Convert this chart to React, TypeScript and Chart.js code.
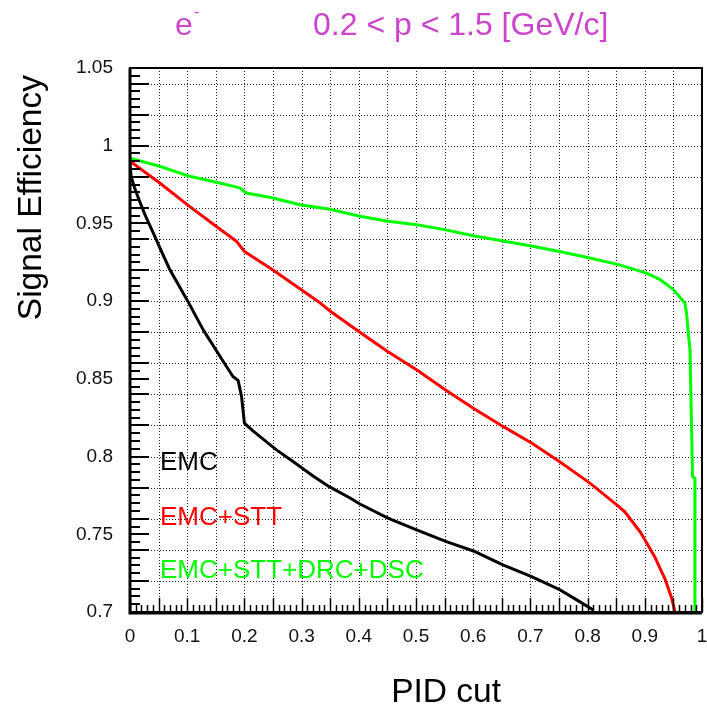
import React, { useEffect, useRef } from "react";
import { Chart, registerables } from "chart.js";

Chart.register(...registerables);

// ---------- data ----------
const EMC_X = [0, 0.002, 0.008, 0.017, 0.028, 0.043, 0.055, 0.07, 0.101, 0.128, 0.165, 0.18, 0.189, 0.195, 0.2, 0.215, 0.256, 0.285, 0.32, 0.349, 0.384, 0.402, 0.451, 0.501, 0.553, 0.603, 0.652, 0.702, 0.752, 0.781, 0.81];
const EMC_Y = [0.988, 0.98, 0.973, 0.964, 0.954, 0.942, 0.932, 0.92, 0.9, 0.8815, 0.86, 0.8515, 0.849, 0.8387, 0.8215, 0.8165, 0.8043, 0.7968, 0.7875, 0.7805, 0.7735, 0.7695, 0.7604, 0.7528, 0.7453, 0.7389, 0.7303, 0.7228, 0.7142, 0.7078, 0.7013];

const STT_X = [0, 0.052, 0.104, 0.151, 0.186, 0.2, 0.25, 0.297, 0.33, 0.352, 0.4, 0.451, 0.501, 0.553, 0.603, 0.652, 0.702, 0.75, 0.804, 0.851, 0.865, 0.893, 0.918, 0.935, 0.946, 0.953];
const STT_Y = [0.99, 0.976, 0.961, 0.948, 0.9385, 0.932, 0.92, 0.908, 0.8995, 0.893, 0.8805, 0.8675, 0.8559, 0.8425, 0.8305, 0.8194, 0.8087, 0.797, 0.7829, 0.7689, 0.7645, 0.751, 0.735, 0.7215, 0.71, 0.7];

const ALL_X = [0, 0.052, 0.104, 0.151, 0.192, 0.203, 0.25, 0.297, 0.352, 0.402, 0.451, 0.501, 0.55, 0.6, 0.65, 0.699, 0.751, 0.804, 0.854, 0.903, 0.927, 0.95, 0.97, 0.973, 0.976, 0.979, 0.9835, 0.9875, 0.9877];
const ALL_Y = [0.992, 0.9868, 0.9803, 0.9765, 0.9729, 0.9696, 0.9664, 0.962, 0.9589, 0.9546, 0.9514, 0.9492, 0.946, 0.9421, 0.9389, 0.9357, 0.932, 0.9278, 0.9235, 0.918, 0.9138, 0.9074, 0.8988, 0.8924, 0.8795, 0.8687, 0.787, 0.786, 0.7];

const SERIES_LABELS = ["EMC", "EMC+STT", "EMC+STT+DRC+DSC"];
const SERIES_COLORS = ["#000000", "#ff0000", "#00ff00"];

const X_MIN = 0;
const X_MAX = 1;
const Y_MIN = 0.7;
const Y_MAX = 1.05;
const X_TICK_STEP = 0.01;
const Y_TICK_STEP = 0.005;
const X_GRID_STEP = 0.05;
const Y_GRID_STEP = 0.02;
const X_LABEL_STEP = 0.1;
const Y_LABEL_STEP = 0.05;

const TITLE_PARTICLE = "e";
const TITLE_CHARGE = "-";
const TITLE_RANGE = "0.2 < p < 1.5 [GeV/c]";
const X_TITLE = "PID cut";
const Y_TITLE = "Signal Efficiency";

const FONT = "'Liberation Sans', Arial, Helvetica, sans-serif";
const TITLE_COLOR = "#cc44cc";

function isMult(v: number, step: number): boolean {
  const r = v / step;
  return Math.abs(r - Math.round(r)) < 1e-6;
}

const rootPlugin = {
  id: "rootStyle",
  beforeDatasetsDraw(chart: any) {
    const { ctx, chartArea: a, scales } = chart;
    const xs = scales.x;
    const ys = scales.y;
    ctx.save();
    ctx.strokeStyle = "#222";
    ctx.lineWidth = 1;
    ctx.setLineDash([1, 2]);
    for (const t of ys.ticks) {
      const v = t.value;
      if (!isMult(v, Y_GRID_STEP) || v <= Y_MIN + 1e-9 || v >= Y_MAX - 1e-9) continue;
      const py = Math.round(ys.getPixelForValue(v)) + 0.5;
      ctx.beginPath();
      ctx.moveTo(a.left, py);
      ctx.lineTo(a.right, py);
      ctx.stroke();
    }
    for (const t of xs.ticks) {
      const v = t.value;
      if (!isMult(v, X_GRID_STEP) || v <= X_MIN + 1e-9 || v >= X_MAX - 1e-9) continue;
      const px = Math.round(xs.getPixelForValue(v)) + 0.5;
      ctx.beginPath();
      ctx.moveTo(px, a.top);
      ctx.lineTo(px, a.bottom);
      ctx.stroke();
    }
    ctx.restore();
  },
  afterDatasetsDraw(chart: any) {
    const { ctx, chartArea: a, scales } = chart;
    const xs = scales.x;
    const ys = scales.y;
    ctx.save();
    ctx.setLineDash([]);
    ctx.strokeStyle = "#000";
    ctx.lineWidth = 2;
    for (const t of ys.ticks) {
      const v = t.value;
      const long = isMult(v, Y_GRID_STEP) || isMult(v, Y_LABEL_STEP);
      const len = long ? 19 : 10;
      const py = Math.round(ys.getPixelForValue(v));
      ctx.beginPath();
      ctx.moveTo(a.left, py);
      ctx.lineTo(a.left + len, py);
      ctx.stroke();
    }
    ctx.lineWidth = 1.5;
    for (const t of xs.ticks) {
      const v = t.value;
      const long = isMult(v, X_GRID_STEP);
      const len = long ? 14 : 7;
      const px = Math.round(xs.getPixelForValue(v)) + 0.5;
      ctx.beginPath();
      ctx.moveTo(px, a.bottom);
      ctx.lineTo(px, a.bottom - len);
      ctx.stroke();
    }
    ctx.lineWidth = 2;
    ctx.strokeRect(a.left, a.top, a.right - a.left, a.bottom - a.top);
    ctx.lineWidth = 3;
    ctx.beginPath();
    ctx.moveTo(a.left, a.top);
    ctx.lineTo(a.left, a.bottom + 1);
    ctx.lineTo(a.right, a.bottom + 1);
    ctx.stroke();
    ctx.restore();
  },
  afterDraw(chart: any) {
    const { ctx } = chart;
    ctx.save();
    ctx.fillStyle = TITLE_COLOR;
    ctx.textBaseline = "alphabetic";
    ctx.textAlign = "left";
    ctx.font = `32px ${FONT}`;
    ctx.fillText(TITLE_PARTICLE, 175, 35);
    ctx.fillText(TITLE_RANGE, 313, 35);
    ctx.font = `16px ${FONT}`;
    ctx.fillText(TITLE_CHARGE, 194, 17);
    ctx.fillStyle = "#000";
    ctx.font = `33.5px ${FONT}`;
    ctx.textAlign = "right";
    ctx.fillText(X_TITLE, 501, 702);
    ctx.save();
    ctx.translate(41, 75);
    ctx.rotate(-Math.PI / 2);
    ctx.textAlign = "right";
    ctx.fillText(Y_TITLE, 0, 0);
    ctx.restore();
    ctx.font = `26px ${FONT}`;
    ctx.textAlign = "left";
    const baselines = [470, 525, 578];
    SERIES_LABELS.forEach((lab, i) => {
      ctx.fillStyle = SERIES_COLORS[i];
      ctx.fillText(lab, 160, baselines[i]);
    });
    ctx.restore();
  },
};

function toPoints(xs: number[], ys: number[]) {
  return xs.map((x, i) => ({ x, y: ys[i] }));
}

export default function App() {
  const ref = useRef<HTMLCanvasElement | null>(null);
  useEffect(() => {
    if (!ref.current) return;
    const seriesX = [EMC_X, STT_X, ALL_X];
    const seriesY = [EMC_Y, STT_Y, ALL_Y];
    const chart = new Chart(ref.current, {
      type: "line",
      data: {
        datasets: SERIES_LABELS.map((label, i) => ({
          label,
          data: toPoints(seriesX[i], seriesY[i]),
          borderColor: SERIES_COLORS[i],
          backgroundColor: SERIES_COLORS[i],
          borderWidth: 3,
          borderJoinStyle: "round",
          pointRadius: 0,
          tension: 0,
          fill: false,
        })),
      },
      options: {
        responsive: false,
        animation: false,
        devicePixelRatio: 1,
        layout: { padding: { left: 0, top: 68, right: 5, bottom: 0 } },
        plugins: {
          legend: { display: false },
          tooltip: { enabled: false },
          title: { display: false },
        },
        scales: {
          x: {
            type: "linear",
            min: X_MIN,
            max: X_MAX,
            grid: { display: false, drawTicks: false },
            border: { display: false },
            ticks: {
              stepSize: X_TICK_STEP,
              autoSkip: false,
              maxRotation: 0,
              minRotation: 0,
              padding: 13,
              color: "#111",
              font: { family: FONT, size: 19 },
              callback: (v: any) => (isMult(Number(v), X_LABEL_STEP) ? String(parseFloat(Number(v).toFixed(1))) : ""),
            },
            afterFit: (s: any) => {
              s.height = 99;
              s.paddingLeft = 0;
              s.paddingRight = 0;
            },
          },
          y: {
            type: "linear",
            min: Y_MIN,
            max: Y_MAX,
            grid: { display: false, drawTicks: false },
            border: { display: false },
            ticks: {
              stepSize: Y_TICK_STEP,
              autoSkip: false,
              padding: 17,
              color: "#111",
              font: { family: FONT, size: 19 },
              callback: (v: any) => (isMult(Number(v), Y_LABEL_STEP) ? String(parseFloat(Number(v).toFixed(2))) : ""),
            },
            afterFit: (s: any) => {
              s.width = 130;
              s.paddingTop = 0;
              s.paddingBottom = 0;
            },
          },
        },
      },
      plugins: [rootPlugin],
    } as any);
    return () => chart.destroy();
  }, []);
  return (
    <div style={{ position: "absolute", left: 0, top: 0, width: 707, height: 711, background: "#fff" }}>
      <canvas ref={ref} width={707} height={711} style={{ display: "block" }} />
    </div>
  );
}
